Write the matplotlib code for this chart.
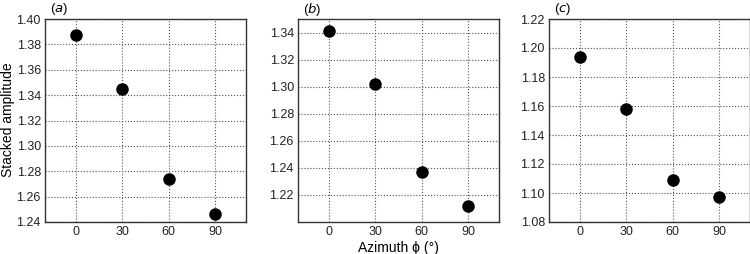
import matplotlib.pyplot as plt

plt.rcParams["font.family"] = ["Liberation Sans", "DejaVu Sans"]

azimuth = [0, 30, 60, 90]
amp_a = [1.387, 1.345, 1.274, 1.246]
amp_b = [1.341, 1.302, 1.237, 1.212]
amp_c = [1.194, 1.158, 1.109, 1.097]

panels = [
    ("a", amp_a, (1.24, 1.40), [1.24, 1.26, 1.28, 1.30, 1.32, 1.34, 1.36, 1.38, 1.40]),
    ("b", amp_b, (1.20, 1.35), [1.22, 1.24, 1.26, 1.28, 1.30, 1.32, 1.34]),
    ("c", amp_c, (1.08, 1.22), [1.08, 1.10, 1.12, 1.14, 1.16, 1.18, 1.20, 1.22]),
]

W, H = 750, 254
fig = plt.figure(figsize=(W / 100, H / 100), dpi=100)

# left edges of each axes in pixels
lefts = [45, 298, 549]
top, bottom = 19, 222
width = 201

for (tag, vals, ylim, yticks), left in zip(panels, lefts):
    ax = fig.add_axes([left / W, 1 - bottom / H, width / W, (bottom - top) / H])
    ax.plot(azimuth, vals, "o", color="black", markersize=8)
    ax.set_xlim(-20, 110)
    ax.set_ylim(*ylim)
    ax.set_xticks(azimuth)
    ax.set_yticks(yticks)
    ax.set_yticklabels([f"{t:.2f}" for t in yticks])
    ax.grid(True, linestyle=":", color="#555555", linewidth=0.8)
    ax.tick_params(length=0, labelsize=9, pad=3, colors="#222222")
    for s in ax.spines.values():
        s.set_color("#333333")
        s.set_linewidth(1.0)
    # panel tag, e.g. (a), just above the top-left corner
    fig.text((left + 5) / W, 1 - 9 / H, r"($\it{" + tag + r"}$)",
             fontsize=9.5, ha="left", va="center")
    if tag == "a":
        fig.text(8 / W, 1 - 120 / H, "Stacked amplitude", fontsize=10,
                 rotation=90, ha="center", va="center")
    if tag == "b":
        fig.text((left + width / 2) / W, 1 - 248 / H, "Azimuth \u03d5 (°)",
                 fontsize=10, ha="center", va="center")

fig.savefig("out.png", dpi=100)
